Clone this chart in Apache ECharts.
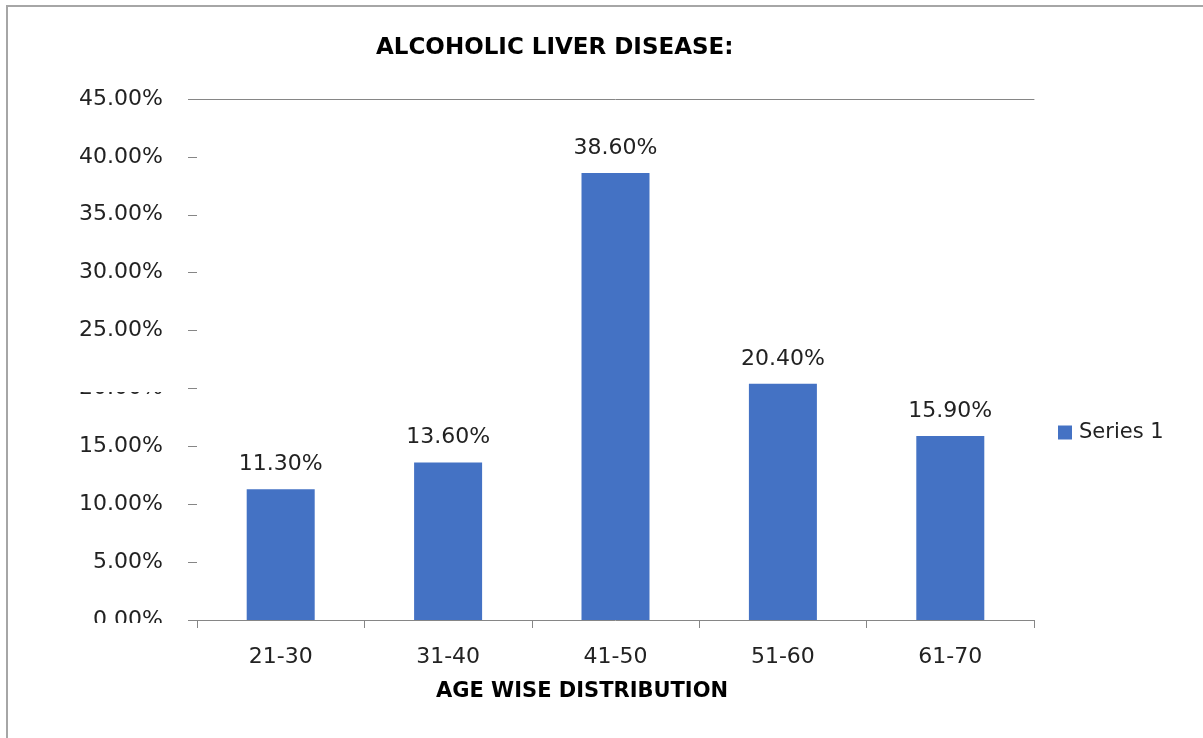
<!DOCTYPE html>
<html>
<head>
<meta charset="utf-8">
<script src="https://cdn.jsdelivr.net/npm/echarts@6/dist/echarts.min.js"></script>
<style>
  html, body { margin: 0; padding: 0; background: #fff; }
  #chart { width: 1203px; height: 738px; }
</style>
</head>
<body>
<div id="chart"></div>
<script>
// Age groups and share of alcoholic liver disease cases (%)
const ageGroups = ['21-30', '31-40', '41-50', '51-60', '61-70'];
const caseShare = [11.3, 13.6, 38.6, 20.4, 15.9];
const seriesName = 'Series 1';
const titleText = 'ALCOHOLIC LIVER DISEASE:';
const xAxisTitle = 'AGE WISE DISTRIBUTION';

const pct = v => v.toFixed(2) + '%';
const labelFont = 'DejaVu Sans';
const boldFont = 'DejaVu Sans';

const chart = echarts.init(document.getElementById('chart'));
chart.setOption({
  animation: false,
  backgroundColor: '#fff',
  title: {
    text: titleText,
    left: 371,
    top: 32,
    textStyle: { fontFamily: boldFont, fontWeight: 'bold', fontSize: 23, color: '#000' }
  },
  legend: {
    data: [seriesName],
    orient: 'vertical',
    left: 1058,
    top: 422,
    padding: 0,
    itemWidth: 14,
    itemHeight: 14,
    itemGap: 6,
    icon: 'rect',
    textStyle: { fontFamily: labelFont, fontSize: 21, color: '#222', padding: [0, 0, 0, 2] }
  },
  grid: { left: 197, right: 169, top: 99, bottom: 118, containLabel: false },
  xAxis: [{
    type: 'category',
    data: ageGroups,
    position: 'bottom',
    axisLine: { lineStyle: { color: '#868686', width: 1 } },
    axisTick: { show: true, length: 8, lineStyle: { color: '#868686' } },
    axisLabel: { margin: 26, fontFamily: labelFont, fontSize: 22, color: '#222' },
    name: xAxisTitle,
    nameLocation: 'middle',
    nameGap: 61,
    nameTextStyle: {
      fontFamily: boldFont, fontWeight: 'bold', fontSize: 21, color: '#000',
      padding: [0, 67, 0, 0]
    }
  }, {
    // top rule of the plot area at the 45% level
    type: 'category',
    data: ageGroups,
    position: 'top',
    axisLine: { show: true, lineStyle: { color: '#868686', width: 1 } },
    axisTick: { show: false },
    axisLabel: { show: false }
  }],
  yAxis: {
    type: 'value',
    min: 0,
    max: 45,
    interval: 5,
    axisLine: { show: false },
    axisTick: { show: true, length: 9, lineStyle: { color: '#868686' } },
    splitLine: { show: false },
    axisLabel: {
      margin: 34,
      fontFamily: labelFont,
      fontSize: 22,
      color: '#222',
      formatter: pct
    }
  },
  series: [{
    name: seriesName,
    type: 'bar',
    xAxisIndex: 0,
    data: caseShare,
    barWidth: 68,
    itemStyle: { color: '#4472C4' },
    label: {
      show: true,
      position: 'top',
      distance: 14,
      fontFamily: labelFont,
      fontSize: 22,
      color: '#222',
      formatter: p => pct(p.value)
    }
  }],
  graphic: [
    {
      // outer frame
      type: 'rect',
      shape: { x: 7, y: 6, width: 1220, height: 760 },
      style: { fill: 'none', stroke: '#a6a6a6', lineWidth: 2 },
      silent: true
    },
    {
      // overlapping band that hides the upper part of the 20% tick label
      type: 'rect',
      shape: { x: 60, y: 368, width: 120, height: 24 },
      style: { fill: '#fff' },
      z: 100,
      silent: true
    },
    {
      // lower edge of the 0% tick label is clipped
      type: 'rect',
      shape: { x: 60, y: 623, width: 120, height: 16 },
      style: { fill: '#fff' },
      z: 100,
      silent: true
    }
  ]
});
</script>
</body>
</html>
